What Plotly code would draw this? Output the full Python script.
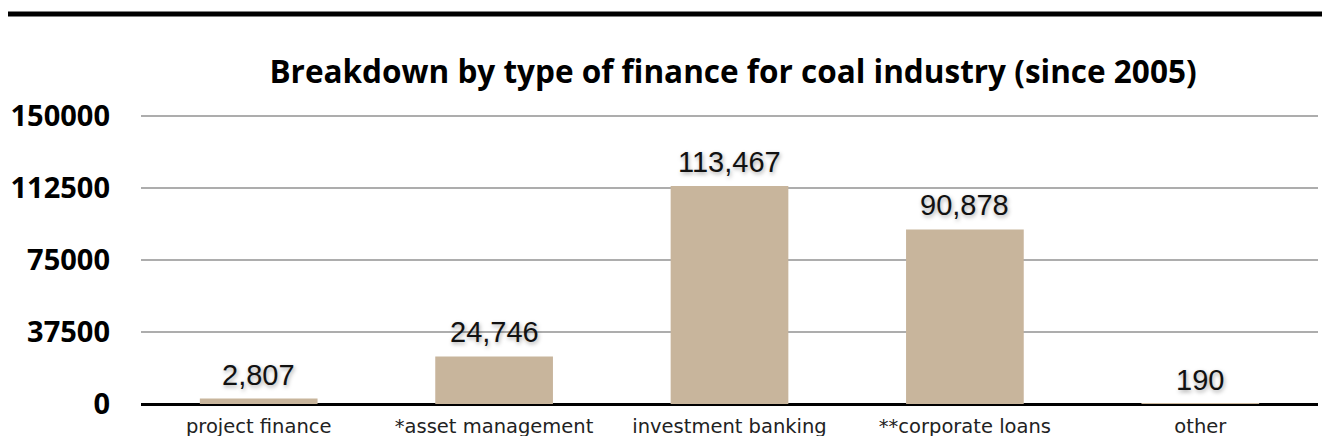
import plotly.graph_objects as go

categories = ["project finance", "*asset management", "investment banking", "**corporate loans", "other"]
values = [2807, 24746, 113467, 90878, 190]
y_ticks = [0, 37500, 75000, 112500, 150000]
y_max = 151500
title_text = "Breakdown by type of finance for coal industry (since 2005)"

# page body has an 8px margin on every side; size the figure to fit inside the window
OFF = 8
W, H = 1330 - 2 * OFF, 444 - 2 * OFF
px_per_unit = (404 - 116) / 150000
plot_top = 404 - y_max * px_per_unit
L, T = 141 - OFF, round(plot_top) - OFF
R = W + OFF - 1318
B = H + OFF - 404
plot_w = W - L - R
plot_h = H - T - B

fig = go.Figure()
fig.add_trace(go.Bar(
    x=categories, y=values, width=0.5,
    marker=dict(color="#c8b59c", line=dict(width=0)),
    hoverinfo="skip",
))

for c, v in zip(categories, values):
    fig.add_annotation(
        x=c, y=v, text=f"{v:,}", showarrow=False, yanchor="bottom", yshift=6,
        font=dict(family="Liberation Sans, Arial", size=29, color="#111",
                  shadow="1px 2px 4px rgba(0,0,0,0.35)"),
    )

top_line_y = 14 - OFF
ly = (plot_h + T - top_line_y) / plot_h
fig.add_shape(type="line", xref="paper", yref="paper",
              x0=(7 - 141) / plot_w, x1=(1340 - 141) / plot_w,
              y0=ly, y1=ly, line=dict(color="black", width=5))

fig.update_layout(
    width=W, height=H,
    margin=dict(l=L, r=R, t=T, b=B, autoexpand=False),
    paper_bgcolor="white", plot_bgcolor="white",
    showlegend=False,
    title=dict(text=f"<b>{title_text}</b>", x=0.503, xref="paper", xanchor="center",
               y=1 - (72 - OFF) / H, yref="container", yanchor="middle",
               font=dict(family="Open Sans, DejaVu Sans", size=31.5, color="black")),
    xaxis=dict(showgrid=False, showline=False, zeroline=False, automargin=False,
               tickfont=dict(family="DejaVu Sans, Open Sans", size=19.5, color="#222"),
               ticklabelstandoff=8),
    yaxis=dict(range=[0, y_max], tickvals=y_ticks, ticktext=[str(t) for t in y_ticks],
               showgrid=True, gridcolor="#adadad", gridwidth=2, automargin=False,
               zeroline=True, zerolinecolor="black", zerolinewidth=2.5,
               showline=False,
               tickfont=dict(family="Open Sans, DejaVu Sans", size=29, color="black", weight="bold"),
               ticklabelstandoff=30),
)

fig.write_html("out.html")
